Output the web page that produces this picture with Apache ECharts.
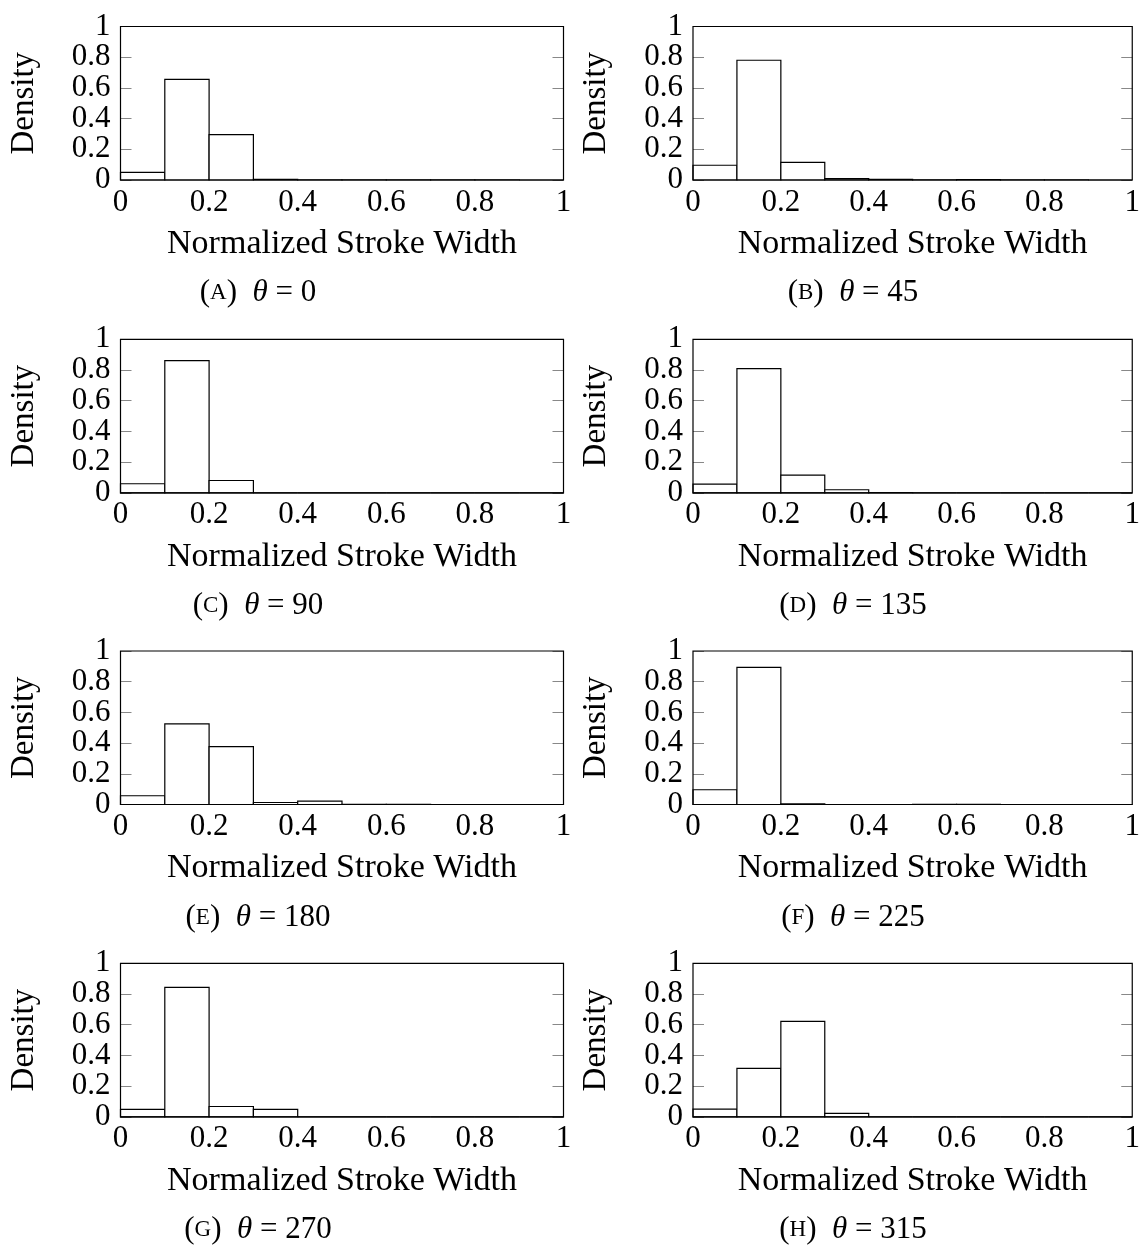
<!DOCTYPE html>
<html>
<head>
<meta charset="utf-8">
<script src="https://cdn.jsdelivr.net/npm/echarts@6/dist/echarts.min.js"></script>
<style>
html,body{margin:0;padding:0;background:#fff;}
#chart{width:1143px;height:1247px;}
</style>
</head>
<body>
<div id="chart"></div>
<script>
// Histogram bins (normalized stroke width), bin width 0.1
const binStarts = [0, 0.1, 0.2, 0.3, 0.4, 0.5, 0.6, 0.7, 0.8, 0.9];
const binWidth = 0.1;
const xTicks = [0, 0.2, 0.4, 0.6, 0.8, 1];
const yTicks = [0, 0.2, 0.4, 0.6, 0.8, 1];

// Density per bin for each orientation
const densityA = [0.050, 0.655, 0.295, 0.004, 0.001, 0.001, 0.001, 0.001, 0.001, 0.000]; // θ = 0
const densityB = [0.096, 0.780, 0.115, 0.009, 0.004, 0.001, 0.002, 0.001, 0.001, 0.000]; // θ = 45
const densityC = [0.059, 0.861, 0.080, 0.000, 0.000, 0.000, 0.000, 0.000, 0.000, 0.000]; // θ = 90
const densityD = [0.057, 0.809, 0.115, 0.020, 0.001, 0.000, 0.000, 0.000, 0.000, 0.000]; // θ = 135
const densityE = [0.057, 0.525, 0.377, 0.013, 0.022, 0.001, 0.001, 0.000, 0.000, 0.000]; // θ = 180
const densityF = [0.096, 0.893, 0.004, 0.000, 0.000, 0.001, 0.001, 0.000, 0.000, 0.000]; // θ = 225
const densityG = [0.048, 0.843, 0.067, 0.048, 0.000, 0.000, 0.000, 0.000, 0.000, 0.000]; // θ = 270
const densityH = [0.050, 0.315, 0.622, 0.022, 0.000, 0.000, 0.000, 0.000, 0.000, 0.000]; // θ = 315

const panelLetters = ['A', 'B', 'C', 'D', 'E', 'F', 'G', 'H'];
const panelThetas = [0, 45, 90, 135, 180, 225, 270, 315];
const panelDensities = [densityA, densityB, densityC, densityD, densityE, densityF, densityG, densityH];

const xAxisName = 'Normalized Stroke Width';
const yAxisName = 'Density';

// ---- layout ----
const FONT = '"Liberation Serif", "Times New Roman", serif';
const colLeft = [120.5, 693];
const colWidth = [443, 441];
const rowTop = [26.5, 339.3, 651, 963.3];
const plotH = 153.5;
const captionCenter = [258, 853];

// y tick labels split into two interleaved sets so none get auto-hidden
const yLabelsEven = yTicks.filter((v, k) => k % 2 === 0);
const yLabelsOdd = yTicks.filter((v, k) => k % 2 === 1);

const grids = [], xAxes = [], yAxes = [], series = [], titles = [];

function renderBin(params, api) {
  const x0 = api.value(0), x1 = api.value(1), y = api.value(2);
  const p0 = api.coord([x0, y]);
  const p1 = api.coord([x1, 0]);
  return {
    type: 'rect',
    shape: { x: p0[0], y: p0[1], width: p1[0] - p0[0], height: p1[1] - p0[1] },
    style: { fill: '#fff', stroke: '#000', lineWidth: 1.2 }
  };
}

const yLabelStyle = { margin: 10, fontFamily: FONT, fontSize: 31, color: '#000',
  showMinLabel: true, showMaxLabel: true, hideOverlap: false, formatter: v => String(v) };

panelDensities.forEach((dens, i) => {
  const col = i % 2, row = Math.floor(i / 2);
  grids.push({
    left: colLeft[col], top: rowTop[row], width: colWidth[col], height: plotH,
    show: true, borderColor: '#000', borderWidth: 1.2, backgroundColor: 'transparent', z: 5
  });
  xAxes.push({
    gridIndex: i, type: 'value', min: xTicks[0], max: xTicks[xTicks.length - 1], interval: 0.2,
    name: xAxisName, nameLocation: 'middle', nameGap: 47,
    nameTextStyle: { fontFamily: FONT, fontSize: 34, color: '#000' },
    axisLine: { show: false }, axisTick: { show: false }, splitLine: { show: false },
    axisLabel: { margin: 7, fontFamily: FONT, fontSize: 31, color: '#000',
      showMinLabel: true, showMaxLabel: true, hideOverlap: false,
      formatter: v => String(v) }
  });
  // left axis: ticks + labels 0, 0.4, 0.8 + name
  yAxes.push({
    gridIndex: i, type: 'value', min: yTicks[0], max: yTicks[yTicks.length - 1], interval: 0.2,
    name: yAxisName, nameLocation: 'middle', nameGap: 80,
    nameTextStyle: { fontFamily: FONT, fontSize: 33, color: '#000' },
    axisLine: { show: false },
    axisTick: { show: true, inside: true, length: 11, lineStyle: { color: '#888', width: 1 } },
    splitLine: { show: false },
    axisLabel: Object.assign({ customValues: yLabelsEven }, yLabelStyle)
  });
  // left axis: labels 0.2, 0.6, 1
  yAxes.push({
    gridIndex: i, type: 'value', position: 'left', min: yTicks[0], max: yTicks[yTicks.length - 1], interval: 0.2,
    axisLine: { show: false }, axisTick: { show: false }, splitLine: { show: false },
    axisLabel: Object.assign({ customValues: yLabelsOdd }, yLabelStyle)
  });
  // right axis: inward ticks only
  yAxes.push({
    gridIndex: i, type: 'value', position: 'right', min: yTicks[0], max: yTicks[yTicks.length - 1], interval: 0.2,
    axisLine: { show: false },
    axisTick: { show: true, inside: true, length: 11, lineStyle: { color: '#888', width: 1 } },
    splitLine: { show: false }, axisLabel: { show: false }
  });
  series.push({
    type: 'custom', xAxisIndex: i, yAxisIndex: 3 * i,
    renderItem: renderBin, z: 3,
    data: binStarts.map((b, k) => [b, +(b + binWidth).toFixed(2), dens[k]])
  });
  titles.push({
    text: '(' + '{sc|' + panelLetters[i] + '}' + ')  {it|θ} = ' + panelThetas[i],
    left: captionCenter[col], top: rowTop[row] + 251, textAlign: 'center', padding: 0,
    textStyle: {
      fontFamily: FONT, fontSize: 31, fontWeight: 'normal', color: '#000',
      rich: {
        sc: { fontFamily: FONT, fontSize: 23, color: '#000' },
        it: { fontFamily: FONT, fontSize: 31, fontStyle: 'italic', color: '#000' }
      }
    }
  });
});

const chart = echarts.init(document.getElementById('chart'), null, { renderer: 'canvas' });
chart.setOption({
  backgroundColor: '#fff',
  animation: false,
  title: titles,
  grid: grids,
  xAxis: xAxes,
  yAxis: yAxes,
  series: series
});
</script>
</body>
</html>
